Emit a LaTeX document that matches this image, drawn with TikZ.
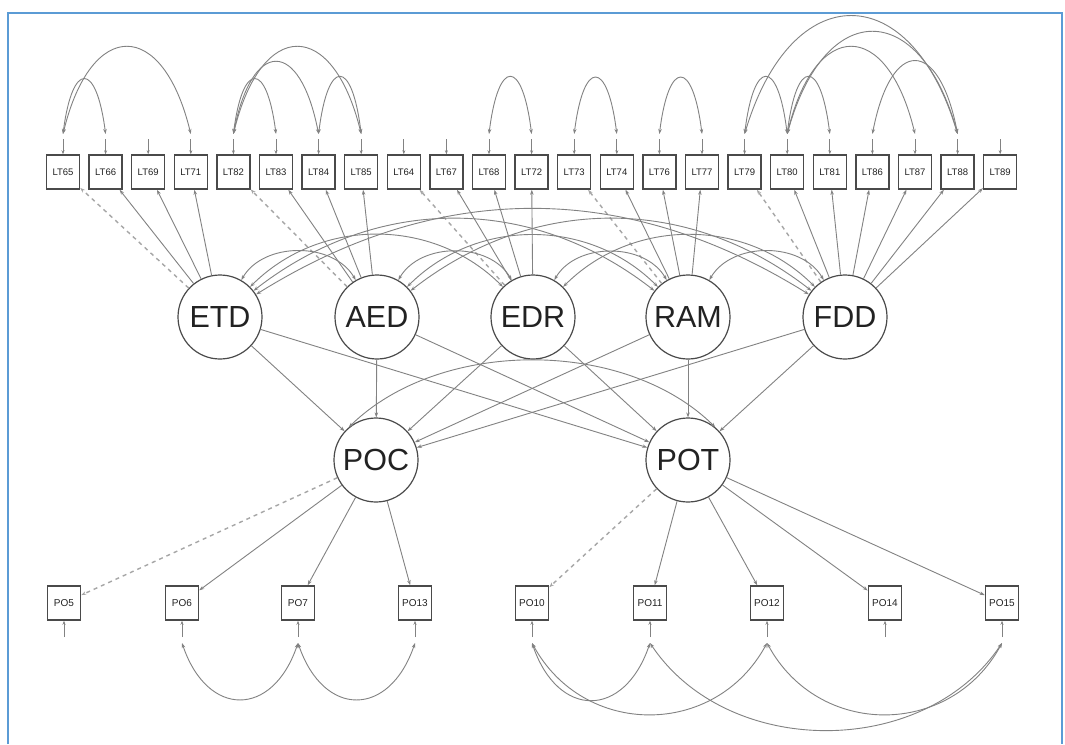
\documentclass[tikz,border=0pt]{standalone}
\usepackage{fontspec}
\setmainfont{Liberation Sans}
\usetikzlibrary{arrows.meta,calc}
\definecolor{edgec}{HTML}{828282}
\definecolor{dashc}{HTML}{A6A6A6}
\definecolor{boxc}{HTML}{4A4A4A}
\definecolor{framec}{HTML}{5B9BD5}
\definecolor{txtc}{HTML}{222222}
\newcommand\ArcUp[3]{\draw[cov] (LT#1-c) .. controls ($(LT#1-c)!0.22!(LT#2-c)+(0,-#3)$) and ($(LT#2-c)!0.22!(LT#1-c)+(0,-#3)$) .. (LT#2-c);}
\newcommand\ArcDn[3]{\draw[cov] (PO#1-c) .. controls ($(PO#1-c)!0.22!(PO#2-c)+(0,#3)$) and ($(PO#2-c)!0.22!(PO#1-c)+(0,#3)$) .. (PO#2-c);}
\begin{document}
\begin{tikzpicture}[x=1pt,y=-1pt,
  ind/.style={draw=boxc, line width=1.5pt, fill=white, minimum width=33pt, minimum height=34pt, inner sep=0pt, font=\fontsize{9.5}{10}\selectfont, text=txtc},
  lat/.style={circle, draw=boxc, line width=1.2pt, fill=white, minimum size=84pt, inner sep=0pt, font=\fontsize{30.5}{31}\selectfont, text=txtc},
  load/.style={draw=edgec, line width=0.9pt, -{Stealth[length=5pt,width=3.5pt]}},
  dload/.style={draw=dashc, line width=1.4pt, dash pattern=on 4pt off 4pt, -{Stealth[length=5pt,width=3.5pt]}},
  cov/.style={draw=edgec, line width=0.9pt, {Stealth[length=5pt,width=3.5pt]}-{Stealth[length=5pt,width=3.5pt]}},
  resid/.style={draw=edgec, line width=0.9pt, -{Stealth[length=4pt,width=3pt]}}
]
\useasboundingbox (0,0) rectangle (1065,744);
\fill[white] (0,0) rectangle (1065,744);
\draw[framec, line width=2pt] (7.5,744) -- (7.5,13) -- (1062,13) -- (1062,744);

% indicator row
\foreach \n [count=\i from 0] in {65,66,69,71,82,83,84,85,64,67,68,72,73,74,76,77,79,80,81,86,87,88,89}{
  \pgfmathsetmacro\xx{63+42.6*\i}
  \node[ind] (LT\n) at (\xx,172) {LT\n};
  \coordinate (LT\n-c) at (\xx,134);
  \coordinate (LT\n-r) at (\xx,139);
  \draw[resid] (LT\n-r) -- (LT\n);
}

% latent factors
\node[lat] (ETD) at (220,317) {ETD};
\node[lat] (AED) at (377,317) {AED};
\node[lat] (EDR) at (533,317) {EDR};
\node[lat] (RAM) at (688,317) {RAM};
\node[lat] (FDD) at (845,317) {FDD};
\node[lat] (POC) at (376,460) {POC};
\node[lat] (POT) at (688,460) {POT};

% bottom indicators
\foreach \n/\xx in {5/64,6/182,7/298,13/415,10/532,11/650,12/767,14/885,15/1002}{
  \node[ind, font=\fontsize{10}{10}\selectfont] (PO\n) at (\xx,603) {PO\n};
  \coordinate (PO\n-c) at (\xx,643);
  \coordinate (PO\n-r) at (\xx,637);
  \draw[resid] (PO\n-r) -- (PO\n);
}

% loadings
\draw[dload] (ETD) -- (LT65);
\foreach \t in {66,69,71} \draw[load] (ETD) -- (LT\t);
\draw[dload] (AED) -- (LT82);
\foreach \t in {83,84,85} \draw[load] (AED) -- (LT\t);
\draw[dload] (EDR) -- (LT64);
\foreach \t in {67,68,72} \draw[load] (EDR) -- (LT\t);
\draw[dload] (RAM) -- (LT73);
\foreach \t in {74,76,77} \draw[load] (RAM) -- (LT\t);
\draw[dload] (FDD) -- (LT79);
\foreach \t in {80,81,86,87,88,89} \draw[load] (FDD) -- (LT\t);

\draw[dload] (POC) -- (PO5);
\foreach \t in {6,7,13} \draw[load] (POC) -- (PO\t);
\draw[dload] (POT) -- (PO10);
\foreach \t in {11,12,14,15} \draw[load] (POT) -- (PO\t);

% structural paths
\foreach \s in {ETD,AED,EDR,RAM,FDD}{
  \draw[load] (\s) -- (POC);
  \draw[load] (\s) -- (POT);
}

% latent covariances
\draw[cov] (ETD) to[bend left=60] (AED);
\draw[cov] (AED) to[bend left=60] (EDR);
\draw[cov] (EDR) to[bend left=60] (RAM);
\draw[cov] (RAM) to[bend left=60] (FDD);
\draw[cov] (ETD) to[bend left=45] (EDR);
\draw[cov] (AED) to[bend left=45] (RAM);
\draw[cov] (EDR) to[bend left=45] (FDD);
\draw[cov] (ETD) to[bend left=38] (RAM);
\draw[cov] (AED) to[bend left=38] (FDD);
\draw[cov] (ETD) to[bend left=32] (FDD);

\draw[cov] (POC.130) .. controls (440,338) and (625,338) .. (POT.50);

% residual covariances, top
\ArcUp{65}{66}{73}
\ArcUp{65}{71}{116}
\ArcUp{82}{83}{73}
\ArcUp{82}{84}{96}
\ArcUp{82}{85}{116}
\ArcUp{84}{85}{76}
\ArcUp{68}{72}{76}
\ArcUp{73}{74}{75}
\ArcUp{76}{77}{75}
\ArcUp{79}{80}{76}
\ArcUp{79}{88}{157}
\ArcUp{80}{81}{76}
\ArcUp{80}{87}{116}
\ArcUp{80}{88}{136}
\ArcUp{86}{88}{97}

% residual covariances, bottom
\ArcDn{6}{7}{75}
\ArcDn{7}{13}{75}
\ArcDn{10}{11}{76}
\ArcDn{10}{12}{95}
\ArcDn{11}{15}{116}
\ArcDn{12}{15}{95}
\end{tikzpicture}
\end{document}
